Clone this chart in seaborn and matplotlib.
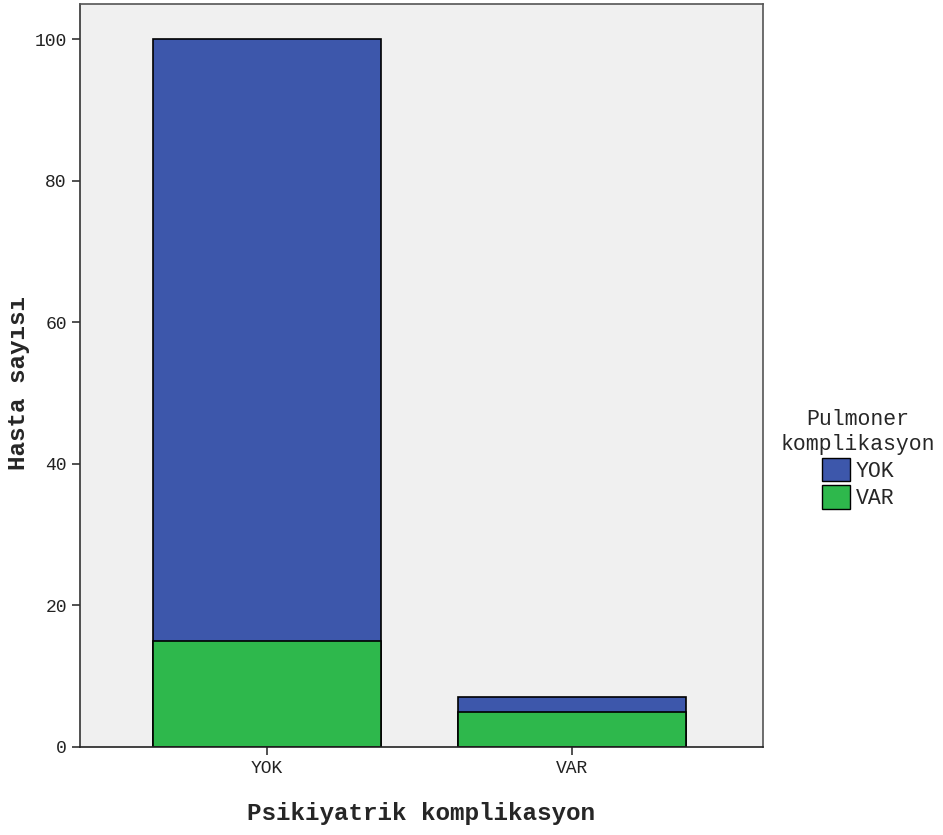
import pandas as pd
import seaborn as sns
import matplotlib.pyplot as plt
from matplotlib.patches import Patch

# veri
kategoriler = ["YOK", "VAR"]          # Psikiyatrik komplikasyon
pulmoner_yok = [85, 2]
pulmoner_var = [15, 5]

toplam = [a + b for a, b in zip(pulmoner_yok, pulmoner_var)]
df = pd.DataFrame({"grup": kategoriler, "toplam": toplam, "var": pulmoner_var})

mavi = "#3D57AB"
yesil = "#2EB84C"

sns.set_style("white")
plt.rcParams["font.family"] = ["Liberation Mono", "DejaVu Sans Mono"]

fig = plt.figure(figsize=(9.43, 8.35), dpi=100)
ax = fig.add_axes([0.0848, 0.1054, 0.7243, 0.8898])
ax.set_facecolor("#F0F0F0")

sns.barplot(data=df, x="grup", y="toplam", color=mavi, saturation=1,
            width=0.75, edgecolor="black", linewidth=1.2, ax=ax)
sns.barplot(data=df, x="grup", y="var", color=yesil, saturation=1,
            width=0.75, edgecolor="black", linewidth=1.2, ax=ax)

ax.set_xlim(-0.613, 1.626)
ax.set_ylim(0, 105)
ax.set_yticks([0, 20, 40, 60, 80, 100])

for s in ax.spines.values():
    s.set_color("#555555")
    s.set_linewidth(1.2)
ax.spines["left"].set_color("#333333")
ax.spines["bottom"].set_color("#222222")

ax.tick_params(axis="both", direction="out", length=6, width=1.2,
               colors="#333333", labelsize=13, left=True, bottom=True)
for t in ax.get_xticklabels() + ax.get_yticklabels():
    t.set_color("#222222")

ax.set_xlabel("Psikiyatrik komplikasyon", fontsize=17.5, fontweight="bold")
ax.set_ylabel("Hasta sayısı", fontsize=17.5, fontweight="bold")
ax.xaxis.set_label_coords(0.5, -0.074)
ax.yaxis.set_label_coords(-0.073, 0.49)

handles = [Patch(facecolor=mavi, edgecolor="black", label="YOK"),
           Patch(facecolor=yesil, edgecolor="black", label="VAR")]
leg = fig.legend(handles=handles, title="Pulmoner\nkomplikasyon",
                 loc="center", bbox_to_anchor=(0.91, 0.45), frameon=False,
                 fontsize=15.5, title_fontsize=15.5, handlelength=1.3,
                 handleheight=1.3, handletextpad=0.25, labelspacing=0.15,
                 borderpad=0.2)
leg.get_title().set_multialignment("center")

fig.savefig("out.png", dpi=100)
